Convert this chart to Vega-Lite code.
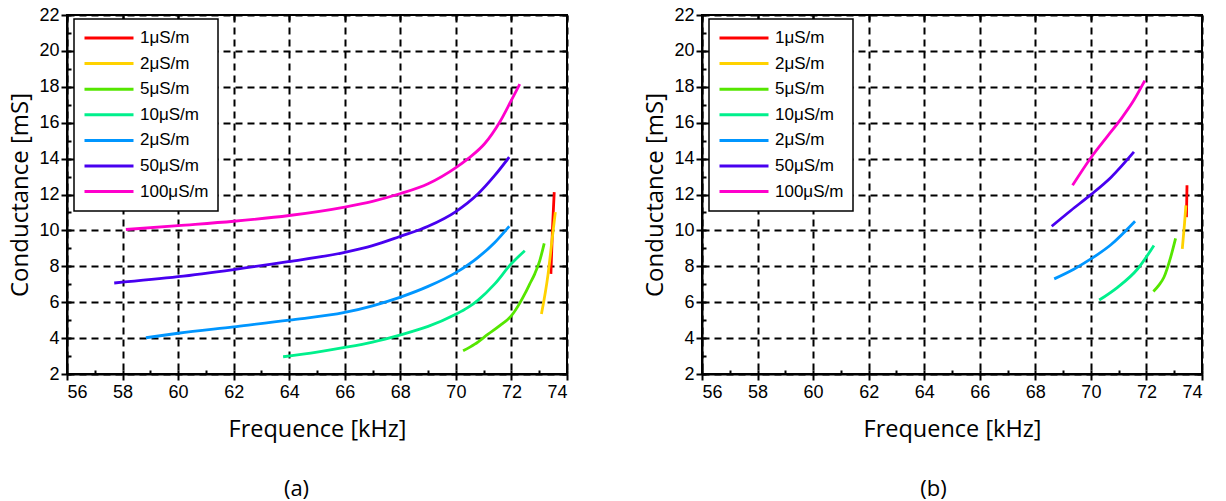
{
  "$schema": "https://vega.github.io/schema/vega-lite/v6.json",
  "background": "white",
  "padding": {"left": 7, "top": 5, "right": 5, "bottom": 0},
  "spacing": 73,
  "config": {
    "view": {"stroke": "black", "strokeWidth": 2},
    "axis": {
      "domainColor": "black", "domainWidth": 2,
      "tickColor": "black", "tickWidth": 2,
      "labelColor": "black", "labelFont": "Liberation Sans", "labelFontSize": 18,
      "titleColor": "black", "titleFont": "Open Sans", "titleFontWeight": "normal",
      "gridColor": "black", "gridDash": [7, 5], "gridWidth": 2, "gridOpacity": 1
    },
    "legend": {
      "labelFont": "Liberation Sans", "labelFontSize": 17, "labelColor": "black",
      "symbolType": "stroke", "symbolSize": 2401, "symbolStrokeWidth": 3,
      "clipHeight": 20, "rowPadding": 5.6, "padding": 9, "labelOffset": 5,
      "strokeColor": "black", "strokeWidth": 1.5, "fillColor": "white"
    }
  },
  "datasets": {
    "a": [
      {"s": "1μS/m", "f": 73.42, "c": 7.58}, {"s": "1μS/m", "f": 73.48, "c": 10.18}, {"s": "1μS/m", "f": 73.54, "c": 12.13},
      {"s": "2μS/m", "f": 73.08, "c": 5.34}, {"s": "2μS/m", "f": 73.32, "c": 7.58}, {"s": "2μS/m", "f": 73.46, "c": 9.44}, {"s": "2μS/m", "f": 73.58, "c": 11.02},
      {"s": "5μS/m", "f": 70.26, "c": 3.29}, {"s": "5μS/m", "f": 70.68, "c": 3.66}, {"s": "5μS/m", "f": 71.16, "c": 4.22}, {"s": "5μS/m", "f": 71.58, "c": 4.69}, {"s": "5μS/m", "f": 72.0, "c": 5.25}, {"s": "5μS/m", "f": 72.3, "c": 5.95}, {"s": "5μS/m", "f": 72.48, "c": 6.46}, {"s": "5μS/m", "f": 72.66, "c": 7.02}, {"s": "5μS/m", "f": 72.84, "c": 7.58}, {"s": "5μS/m", "f": 73.02, "c": 8.32}, {"s": "5μS/m", "f": 73.18, "c": 9.28},
      {"s": "10μS/m", "f": 63.78, "c": 2.96}, {"s": "10μS/m", "f": 65.0, "c": 3.22}, {"s": "10μS/m", "f": 66.0, "c": 3.48}, {"s": "10μS/m", "f": 67.0, "c": 3.78}, {"s": "10μS/m", "f": 67.98, "c": 4.17}, {"s": "10μS/m", "f": 69.0, "c": 4.65}, {"s": "10μS/m", "f": 69.96, "c": 5.3}, {"s": "10μS/m", "f": 70.44, "c": 5.71}, {"s": "10μS/m", "f": 70.8, "c": 6.12}, {"s": "10μS/m", "f": 71.4, "c": 7.02}, {"s": "10μS/m", "f": 71.97, "c": 8.1}, {"s": "10μS/m", "f": 72.48, "c": 8.87},
      {"s": "20μS/m", "f": 58.84, "c": 4.02}, {"s": "20μS/m", "f": 60.0, "c": 4.27}, {"s": "20μS/m", "f": 62.0, "c": 4.63}, {"s": "20μS/m", "f": 64.0, "c": 5.0}, {"s": "20μS/m", "f": 66.0, "c": 5.43}, {"s": "20μS/m", "f": 67.0, "c": 5.8}, {"s": "20μS/m", "f": 67.98, "c": 6.27}, {"s": "20μS/m", "f": 69.0, "c": 6.88}, {"s": "20μS/m", "f": 70.0, "c": 7.65}, {"s": "20μS/m", "f": 70.8, "c": 8.5}, {"s": "20μS/m", "f": 71.4, "c": 9.33}, {"s": "20μS/m", "f": 71.92, "c": 10.23},
      {"s": "50μS/m", "f": 57.7, "c": 7.07}, {"s": "50μS/m", "f": 60.0, "c": 7.42}, {"s": "50μS/m", "f": 62.0, "c": 7.82}, {"s": "50μS/m", "f": 63.96, "c": 8.26}, {"s": "50μS/m", "f": 66.0, "c": 8.78}, {"s": "50μS/m", "f": 67.0, "c": 9.15}, {"s": "50μS/m", "f": 67.98, "c": 9.66}, {"s": "50μS/m", "f": 69.0, "c": 10.23}, {"s": "50μS/m", "f": 70.0, "c": 11.05}, {"s": "50μS/m", "f": 70.8, "c": 12.04}, {"s": "50μS/m", "f": 71.4, "c": 13.06}, {"s": "50μS/m", "f": 71.92, "c": 14.08},
      {"s": "100μS/m", "f": 58.12, "c": 10.05}, {"s": "100μS/m", "f": 60.0, "c": 10.27}, {"s": "100μS/m", "f": 62.0, "c": 10.51}, {"s": "100μS/m", "f": 64.0, "c": 10.83}, {"s": "100μS/m", "f": 66.0, "c": 11.3}, {"s": "100μS/m", "f": 67.0, "c": 11.62}, {"s": "100μS/m", "f": 67.98, "c": 12.04}, {"s": "100μS/m", "f": 69.0, "c": 12.6}, {"s": "100μS/m", "f": 70.0, "c": 13.5}, {"s": "100μS/m", "f": 70.44, "c": 14.0}, {"s": "100μS/m", "f": 71.04, "c": 14.84}, {"s": "100μS/m", "f": 71.58, "c": 16.04}, {"s": "100μS/m", "f": 72.0, "c": 17.26}, {"s": "100μS/m", "f": 72.3, "c": 18.15}
    ],
    "b": [
      {"s": "1μS/m", "f": 73.44, "c": 10.74}, {"s": "1μS/m", "f": 73.46, "c": 12.51},
      {"s": "2μS/m", "f": 73.29, "c": 8.97}, {"s": "2μS/m", "f": 73.37, "c": 10.37}, {"s": "2μS/m", "f": 73.42, "c": 11.39},
      {"s": "5μS/m", "f": 72.25, "c": 6.6}, {"s": "5μS/m", "f": 72.45, "c": 6.95}, {"s": "5μS/m", "f": 72.63, "c": 7.39}, {"s": "5μS/m", "f": 72.87, "c": 8.5}, {"s": "5μS/m", "f": 73.05, "c": 9.56},
      {"s": "10μS/m", "f": 70.3, "c": 6.12}, {"s": "10μS/m", "f": 70.96, "c": 6.83}, {"s": "10μS/m", "f": 71.68, "c": 7.85}, {"s": "10μS/m", "f": 72.27, "c": 9.16},
      {"s": "20μS/m", "f": 68.68, "c": 7.3}, {"s": "20μS/m", "f": 69.4, "c": 7.85}, {"s": "20μS/m", "f": 70.0, "c": 8.41}, {"s": "20μS/m", "f": 70.72, "c": 9.2}, {"s": "20μS/m", "f": 71.59, "c": 10.51},
      {"s": "50μS/m", "f": 68.59, "c": 10.23}, {"s": "50μS/m", "f": 69.28, "c": 11.11}, {"s": "50μS/m", "f": 70.0, "c": 11.99}, {"s": "50μS/m", "f": 70.72, "c": 12.95}, {"s": "50μS/m", "f": 71.55, "c": 14.37},
      {"s": "100μS/m", "f": 69.34, "c": 12.51}, {"s": "100μS/m", "f": 70.0, "c": 14.05}, {"s": "100μS/m", "f": 70.6, "c": 15.25}, {"s": "100μS/m", "f": 71.08, "c": 16.2}, {"s": "100μS/m", "f": 71.55, "c": 17.26}, {"s": "100μS/m", "f": 71.94, "c": 18.34}
    ]
  },
  "resolve": {"legend": {"color": "independent"}},
  "hconcat": [
    {
      "width": 500, "height": 359,
      "data": {"name": "a"},
      "title": {"text": "(a)", "orient": "bottom", "anchor": "middle", "frame": "bounds", "offset": 38, "dx": 8, "font": "Open Sans", "fontSize": 22, "fontWeight": "normal", "color": "black"},
      "resolve": {"axis": {"x": "independent", "y": "independent"}},
      "layer": [
        {
          "mark": {"type": "line", "strokeWidth": 2.8, "interpolate": "monotone"},
          "encoding": {
            "x": {"field": "f", "type": "quantitative", "scale": {"domain": [56, 74], "nice": false, "zero": false},
              "axis": {"orient": "bottom", "title": "Frequence [kHz]", "titleFontSize": 23.5, "values": [56, 58, 60, 62, 64, 66, 68, 70, 72, 74], "grid": true, "tickSize": 6, "labelPadding": 3, "titlePadding": 16}},
            "y": {"field": "c", "type": "quantitative", "scale": {"domain": [2, 22], "nice": false, "zero": false},
              "axis": {"orient": "left", "title": "Conductance [mS]", "titleFontSize": 24, "values": [2, 4, 6, 8, 10, 12, 14, 16, 18, 20, 22], "grid": true, "tickSize": 6, "labelPadding": 2, "titlePadding": 6}},
            "color": {"field": "s", "type": "nominal",
              "scale": {"domain": ["1μS/m", "2μS/m", "5μS/m", "10μS/m", "20μS/m", "50μS/m", "100μS/m"], "range": ["#ff0000", "#ffd200", "#55e600", "#00f08c", "#0096ff", "#4800f0", "#ff00cc"]},
              "legend": {"title": null, "orient": "none", "legendX": 7, "legendY": 4, "labelExpr": "datum.label == '20μS/m' ? '2μS/m' : datum.label"}}
          }
        },
        {
          "mark": {"type": "point", "opacity": 0},
          "encoding": {
            "x": {"field": "f", "type": "quantitative", "scale": {"domain": [56, 74], "nice": false, "zero": false},
              "axis": {"orient": "bottom", "values": [56, 57, 58, 59, 60, 61, 62, 63, 64, 65, 66, 67, 68, 69, 70, 71, 72, 73, 74], "tickSize": -4, "labels": false, "domain": false, "grid": false, "title": null}},
            "y": {"field": "c", "type": "quantitative", "scale": {"domain": [2, 22], "nice": false, "zero": false},
              "axis": {"orient": "left", "values": [2, 3, 4, 5, 6, 7, 8, 9, 10, 11, 12, 13, 14, 15, 16, 17, 18, 19, 20, 21, 22], "tickSize": -4, "labels": false, "domain": false, "grid": false, "title": null}}
          }
        },
        {
          "mark": {"type": "point", "opacity": 0},
          "encoding": {
            "x": {"field": "f", "type": "quantitative", "scale": {"domain": [56, 74], "nice": false, "zero": false},
              "axis": {"orient": "top", "values": [56, 58, 60, 62, 64, 66, 68, 70, 72, 74], "tickSize": -5, "labels": false, "domain": false, "grid": false, "title": null}},
            "y": {"field": "c", "type": "quantitative", "scale": {"domain": [2, 22], "nice": false, "zero": false},
              "axis": {"orient": "right", "values": [2, 4, 6, 8, 10, 12, 14, 16, 18, 20, 22], "tickSize": -5, "labels": false, "domain": false, "grid": false, "title": null}}
          }
        }
      ]
    },
    {
      "width": 500, "height": 359,
      "data": {"name": "b"},
      "title": {"text": "(b)", "orient": "bottom", "anchor": "middle", "frame": "bounds", "offset": 38, "dx": 10, "font": "Open Sans", "fontSize": 22, "fontWeight": "normal", "color": "black"},
      "resolve": {"axis": {"x": "independent", "y": "independent"}},
      "layer": [
        {
          "mark": {"type": "line", "strokeWidth": 2.8, "interpolate": "monotone"},
          "encoding": {
            "x": {"field": "f", "type": "quantitative", "scale": {"domain": [56, 74], "nice": false, "zero": false},
              "axis": {"orient": "bottom", "title": "Frequence [kHz]", "titleFontSize": 23.5, "values": [56, 58, 60, 62, 64, 66, 68, 70, 72, 74], "grid": true, "tickSize": 6, "labelPadding": 3, "titlePadding": 16}},
            "y": {"field": "c", "type": "quantitative", "scale": {"domain": [2, 22], "nice": false, "zero": false},
              "axis": {"orient": "left", "title": "Conductance [mS]", "titleFontSize": 24, "values": [2, 4, 6, 8, 10, 12, 14, 16, 18, 20, 22], "grid": true, "tickSize": 6, "labelPadding": 2, "titlePadding": 6}},
            "color": {"field": "s", "type": "nominal",
              "scale": {"domain": ["1μS/m", "2μS/m", "5μS/m", "10μS/m", "20μS/m", "50μS/m", "100μS/m"], "range": ["#ff0000", "#ffd200", "#55e600", "#00f08c", "#0096ff", "#4800f0", "#ff00cc"]},
              "legend": {"title": null, "orient": "none", "legendX": 7, "legendY": 4, "labelExpr": "datum.label == '20μS/m' ? '2μS/m' : datum.label"}}
          }
        },
        {
          "mark": {"type": "point", "opacity": 0},
          "encoding": {
            "x": {"field": "f", "type": "quantitative", "scale": {"domain": [56, 74], "nice": false, "zero": false},
              "axis": {"orient": "bottom", "values": [56, 57, 58, 59, 60, 61, 62, 63, 64, 65, 66, 67, 68, 69, 70, 71, 72, 73, 74], "tickSize": -4, "labels": false, "domain": false, "grid": false, "title": null}},
            "y": {"field": "c", "type": "quantitative", "scale": {"domain": [2, 22], "nice": false, "zero": false},
              "axis": {"orient": "left", "values": [2, 3, 4, 5, 6, 7, 8, 9, 10, 11, 12, 13, 14, 15, 16, 17, 18, 19, 20, 21, 22], "tickSize": -4, "labels": false, "domain": false, "grid": false, "title": null}}
          }
        },
        {
          "mark": {"type": "point", "opacity": 0},
          "encoding": {
            "x": {"field": "f", "type": "quantitative", "scale": {"domain": [56, 74], "nice": false, "zero": false},
              "axis": {"orient": "top", "values": [56, 58, 60, 62, 64, 66, 68, 70, 72, 74], "tickSize": -5, "labels": false, "domain": false, "grid": false, "title": null}},
            "y": {"field": "c", "type": "quantitative", "scale": {"domain": [2, 22], "nice": false, "zero": false},
              "axis": {"orient": "right", "values": [2, 4, 6, 8, 10, 12, 14, 16, 18, 20, 22], "tickSize": -5, "labels": false, "domain": false, "grid": false, "title": null}}
          }
        }
      ]
    }
  ]
}
